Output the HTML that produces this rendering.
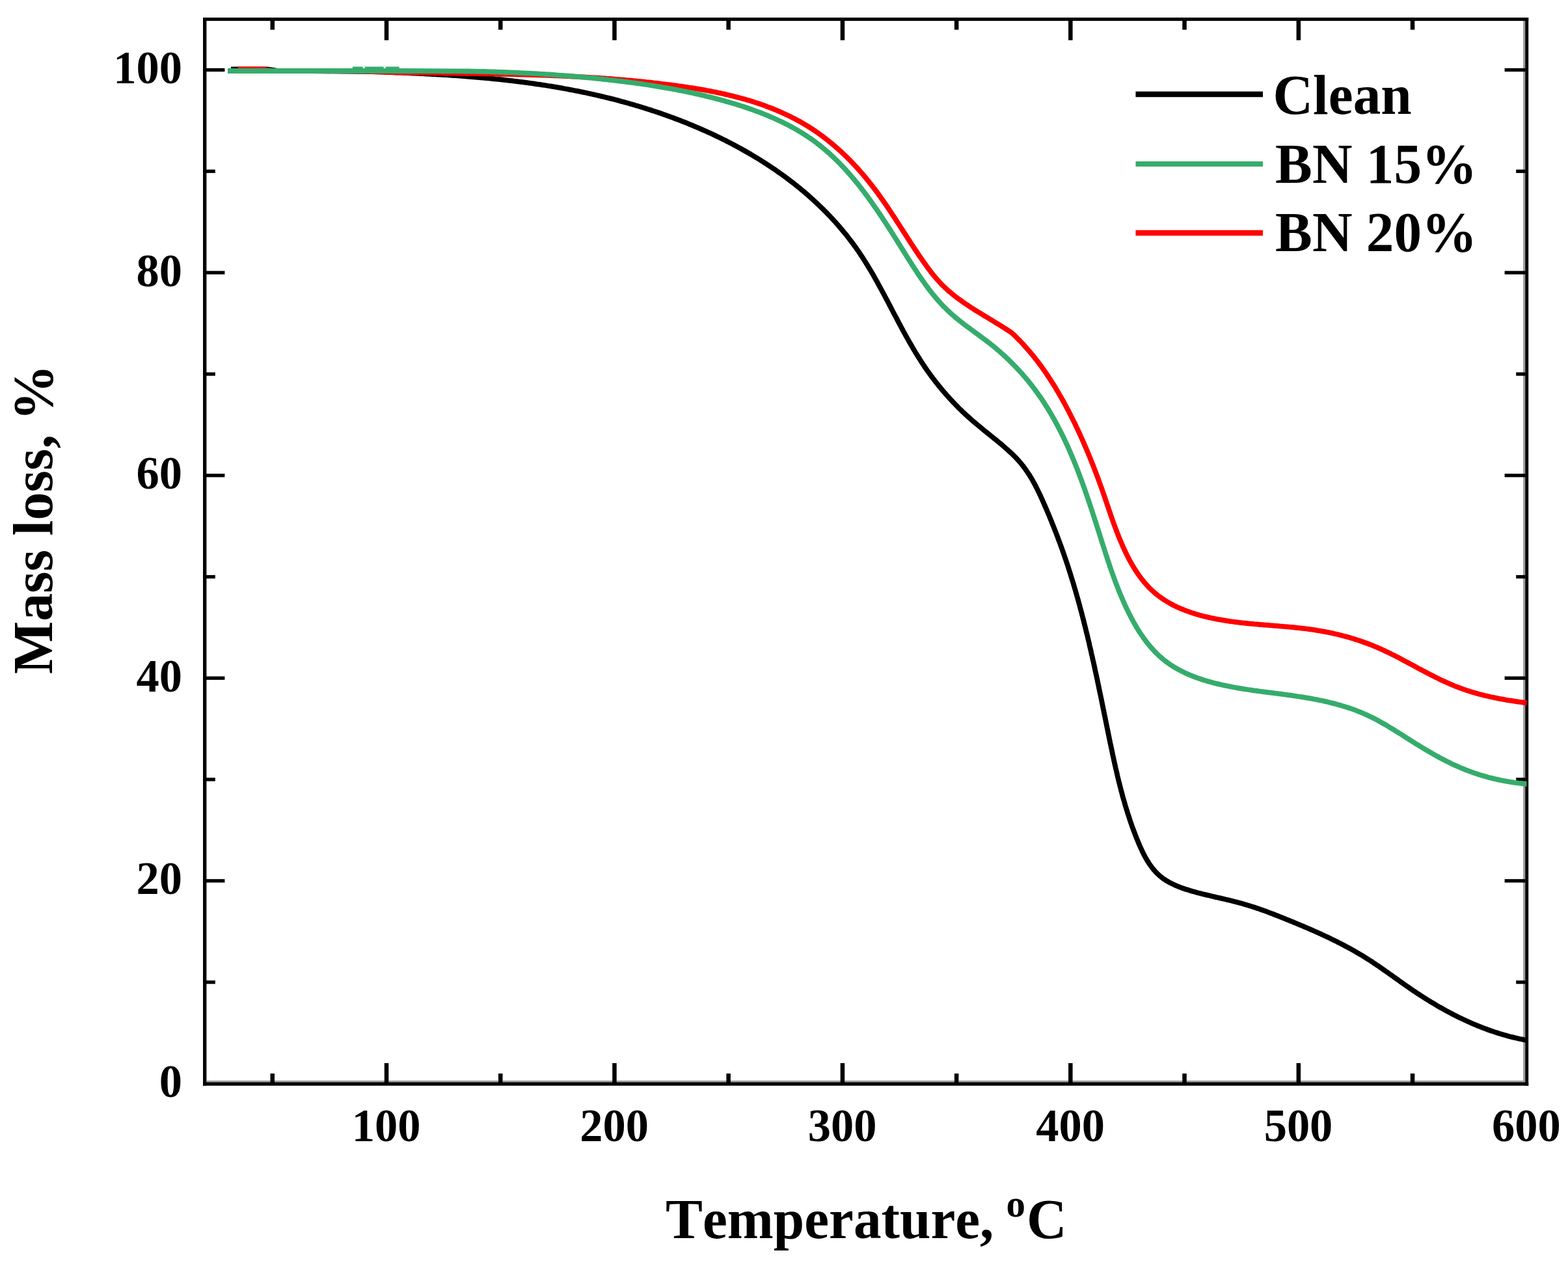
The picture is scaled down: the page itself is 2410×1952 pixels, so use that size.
<!DOCTYPE html>
<html lang="en"><head><meta charset="utf-8"><title>TGA mass loss curves</title>
<style>html,body{margin:0;padding:0;background:#fff}body{width:2410px;height:1952px;overflow:hidden}svg{display:block}text{fill:#000;font-family:"Liberation Serif",serif;font-weight:bold;font-kerning:none;font-variant-ligatures:none}</style>
</head><body>
<svg width="2410" height="1952" viewBox="0 0 2410 1952">
<rect x="0" y="0" width="2410" height="1952" fill="#fff"/>
<g fill="#9c9c9c">
<rect x="317.4" y="1660.8" width="2026.9" height="2.8"/>
<rect x="2341.1" y="32" width="3.4" height="1631.4"/>
</g>
<g fill="#000">
<rect x="312" y="27" width="2037.2" height="5.1"/>
<rect x="312" y="1663.4" width="2037.2" height="5.3"/>
<rect x="312" y="27" width="5.4" height="1641.7"/>
<rect x="2344.3" y="27" width="4.9" height="1641.7"/>
<rect x="415.5" y="32" width="6.5" height="13.7"/>
<rect x="415.5" y="1650.0" width="6.5" height="14.0"/>
<rect x="590.8" y="32" width="6.5" height="29.8"/>
<rect x="590.8" y="1634.0" width="6.5" height="30.0"/>
<rect x="766.0" y="32" width="6.5" height="13.7"/>
<rect x="766.0" y="1650.0" width="6.5" height="14.0"/>
<rect x="941.2" y="32" width="6.5" height="29.8"/>
<rect x="941.2" y="1634.0" width="6.5" height="30.0"/>
<rect x="1116.4" y="32" width="6.5" height="13.7"/>
<rect x="1116.4" y="1650.0" width="6.5" height="14.0"/>
<rect x="1291.7" y="32" width="6.5" height="29.8"/>
<rect x="1291.7" y="1634.0" width="6.5" height="30.0"/>
<rect x="1466.9" y="32" width="6.5" height="13.7"/>
<rect x="1466.9" y="1650.0" width="6.5" height="14.0"/>
<rect x="1642.1" y="32" width="6.5" height="29.8"/>
<rect x="1642.1" y="1634.0" width="6.5" height="30.0"/>
<rect x="1817.3" y="32" width="6.5" height="13.7"/>
<rect x="1817.3" y="1650.0" width="6.5" height="14.0"/>
<rect x="1992.6" y="32" width="6.5" height="29.8"/>
<rect x="1992.6" y="1634.0" width="6.5" height="30.0"/>
<rect x="2167.8" y="32" width="6.5" height="13.7"/>
<rect x="2167.8" y="1650.0" width="6.5" height="14.0"/>
<rect x="317" y="1507.0" width="13.8" height="5.3"/>
<rect x="2330.2" y="1507.0" width="14.4" height="5.3"/>
<rect x="317" y="1351.2" width="28.4" height="5.3"/>
<rect x="2312.6" y="1351.2" width="32.0" height="5.3"/>
<rect x="317" y="1195.4" width="13.8" height="5.3"/>
<rect x="2330.2" y="1195.4" width="14.4" height="5.3"/>
<rect x="317" y="1039.6" width="28.4" height="5.3"/>
<rect x="2312.6" y="1039.6" width="32.0" height="5.3"/>
<rect x="317" y="883.9" width="13.8" height="5.3"/>
<rect x="2330.2" y="883.9" width="14.4" height="5.3"/>
<rect x="317" y="728.1" width="28.4" height="5.3"/>
<rect x="2312.6" y="728.1" width="32.0" height="5.3"/>
<rect x="317" y="572.3" width="13.8" height="5.3"/>
<rect x="2330.2" y="572.3" width="14.4" height="5.3"/>
<rect x="317" y="416.4" width="28.4" height="5.3"/>
<rect x="2312.6" y="416.4" width="32.0" height="5.3"/>
<rect x="317" y="260.6" width="13.8" height="5.3"/>
<rect x="2330.2" y="260.6" width="14.4" height="5.3"/>
<rect x="317" y="104.8" width="28.4" height="5.3"/>
<rect x="2312.6" y="104.8" width="32.0" height="5.3"/>
</g>
<path d="M355.0,106.5 L412.0,106.5 L425.0,108.6 L480.0,109.0 L560.0,109.8 L590.0,110.6 L610.0,111.5 L613.0,111.6 L616.1,111.7 L619.1,111.9 L622.1,112.0 L625.1,112.1 L628.2,112.2 L631.2,112.4 L634.2,112.5 L637.2,112.6 L640.3,112.8 L643.3,112.9 L646.3,113.1 L649.3,113.2 L652.3,113.4 L655.4,113.5 L658.4,113.7 L661.4,113.8 L664.4,114.0 L667.4,114.2 L670.4,114.3 L673.4,114.5 L676.4,114.7 L679.4,114.9 L682.4,115.0 L685.4,115.2 L688.4,115.4 L691.4,115.6 L694.4,115.8 L697.4,116.0 L700.4,116.2 L703.4,116.4 L706.4,116.7 L709.4,116.9 L712.4,117.1 L715.4,117.3 L718.4,117.6 L721.4,117.8 L724.4,118.0 L727.3,118.3 L730.3,118.5 L733.3,118.8 L736.3,119.0 L739.3,119.3 L742.3,119.6 L745.2,119.8 L748.2,120.1 L751.2,120.4 L754.2,120.7 L757.1,121.0 L760.1,121.3 L763.1,121.6 L766.1,121.9 L769.0,122.2 L772.0,122.5 L775.0,122.8 L777.9,123.2 L780.9,123.5 L783.9,123.9 L786.8,124.2 L789.8,124.6 L792.7,124.9 L795.7,125.3 L798.6,125.7 L801.6,126.0 L804.6,126.4 L807.5,126.8 L810.5,127.2 L813.4,127.6 L816.4,128.0 L819.3,128.4 L822.3,128.8 L825.2,129.3 L828.2,129.7 L831.1,130.1 L834.0,130.6 L837.0,131.0 L839.9,131.5 L842.9,132.0 L845.8,132.4 L848.7,132.9 L851.7,133.4 L854.6,133.9 L857.5,134.4 L860.5,134.9 L863.4,135.4 L866.3,136.0 L869.3,136.5 L872.2,137.0 L875.1,137.6 L878.0,138.1 L881.0,138.7 L883.9,139.3 L886.8,139.8 L889.7,140.4 L892.6,141.0 L895.5,141.6 L898.5,142.2 L901.4,142.8 L904.3,143.5 L907.2,144.1 L910.1,144.7 L913.0,145.4 L915.9,146.0 L918.8,146.7 L921.7,147.4 L924.7,148.1 L927.6,148.8 L930.5,149.5 L933.4,150.2 L936.3,150.9 L939.2,151.6 L942.1,152.3 L945.0,153.1 L947.9,153.8 L950.7,154.6 L953.6,155.4 L956.5,156.2 L959.4,156.9 L962.3,157.7 L965.2,158.6 L968.1,159.4 L971.0,160.2 L973.9,161.0 L976.7,161.9 L979.6,162.7 L982.5,163.6 L985.4,164.5 L988.3,165.4 L991.1,166.3 L994.0,167.2 L996.9,168.1 L999.8,169.0 L1002.6,170.0 L1005.5,170.9 L1008.4,171.9 L1011.2,172.8 L1014.1,173.8 L1017.0,174.8 L1019.8,175.8 L1022.7,176.8 L1025.5,177.8 L1028.4,178.8 L1031.2,179.9 L1034.1,180.9 L1036.9,182.0 L1039.7,183.0 L1042.6,184.1 L1045.4,185.2 L1048.2,186.3 L1051.0,187.4 L1053.9,188.5 L1056.7,189.7 L1059.5,190.8 L1062.3,192.0 L1065.1,193.1 L1067.9,194.3 L1070.7,195.5 L1073.5,196.7 L1076.3,197.9 L1079.0,199.1 L1081.8,200.3 L1084.6,201.5 L1087.3,202.8 L1090.1,204.0 L1092.9,205.3 L1095.6,206.6 L1098.4,207.9 L1101.1,209.2 L1103.8,210.5 L1106.5,211.8 L1109.3,213.1 L1112.0,214.5 L1114.7,215.8 L1117.4,217.2 L1120.1,218.6 L1122.8,220.0 L1125.5,221.4 L1128.1,222.8 L1130.8,224.2 L1133.5,225.6 L1136.1,227.1 L1138.8,228.5 L1141.4,230.0 L1144.0,231.5 L1146.7,233.0 L1149.3,234.5 L1151.9,236.0 L1154.5,237.5 L1157.1,239.1 L1159.7,240.6 L1162.2,242.2 L1164.8,243.7 L1167.4,245.3 L1169.9,246.9 L1172.5,248.5 L1175.0,250.1 L1177.5,251.7 L1180.0,253.4 L1182.5,255.0 L1185.0,256.7 L1187.5,258.4 L1190.0,260.0 L1192.5,261.7 L1194.9,263.5 L1197.4,265.2 L1199.8,266.9 L1202.3,268.7 L1204.7,270.4 L1207.1,272.2 L1209.5,274.0 L1211.9,275.7 L1214.3,277.6 L1216.6,279.4 L1219.0,281.2 L1221.3,283.0 L1223.7,284.9 L1226.0,286.8 L1228.3,288.6 L1230.6,290.5 L1232.9,292.4 L1235.2,294.3 L1237.5,296.3 L1239.7,298.2 L1242.0,300.1 L1244.2,302.1 L1246.4,304.1 L1248.6,306.1 L1250.8,308.1 L1253.0,310.1 L1255.2,312.1 L1257.3,314.1 L1259.5,316.2 L1261.6,318.2 L1263.7,320.3 L1265.9,322.4 L1268.0,324.5 L1270.0,326.6 L1272.1,328.7 L1274.2,330.9 L1276.2,333.0 L1278.2,335.2 L1280.2,337.4 L1282.2,339.5 L1284.2,341.7 L1286.2,344.0 L1288.2,346.2 L1290.1,348.4 L1292.0,350.7 L1293.9,352.9 L1295.8,355.2 L1297.7,357.5 L1299.6,359.8 L1301.5,362.1 L1303.3,364.5 L1305.1,366.8 L1306.9,369.2 L1308.7,371.5 L1310.5,373.9 L1312.3,376.3 L1314.0,378.7 L1315.8,381.1 L1317.5,383.6 L1319.2,386.0 L1320.9,388.5 L1322.5,391.0 L1324.2,393.4 L1325.8,395.9 L1327.4,398.5 L1329.0,401.0 L1330.6,403.5 L1332.2,406.1 L1333.8,408.6 L1335.3,411.2 L1336.9,413.8 L1338.4,416.3 L1339.9,418.9 L1341.5,421.5 L1343.0,424.2 L1344.5,426.8 L1345.9,429.4 L1347.4,432.0 L1348.9,434.7 L1350.3,437.3 L1351.8,440.0 L1353.2,442.6 L1354.7,445.3 L1356.1,448.0 L1357.6,450.6 L1359.0,453.3 L1360.4,456.0 L1361.8,458.7 L1363.3,461.3 L1364.7,464.0 L1366.1,466.7 L1367.5,469.4 L1368.9,472.1 L1370.3,474.8 L1371.7,477.5 L1373.1,480.2 L1374.5,482.9 L1376.0,485.6 L1377.4,488.2 L1378.8,490.9 L1380.2,493.6 L1381.6,496.3 L1383.1,499.0 L1384.5,501.7 L1385.9,504.3 L1387.4,507.0 L1388.8,509.7 L1390.3,512.3 L1391.7,515.0 L1393.2,517.6 L1394.7,520.3 L1396.2,522.9 L1397.7,525.6 L1399.2,528.2 L1400.7,530.8 L1402.2,533.4 L1403.7,536.0 L1405.3,538.6 L1406.8,541.2 L1408.4,543.8 L1410.0,546.3 L1411.6,548.9 L1413.2,551.4 L1414.8,554.0 L1416.4,556.5 L1418.1,559.0 L1419.7,561.5 L1421.4,564.0 L1423.1,566.5 L1424.8,568.9 L1426.5,571.4 L1428.3,573.8 L1430.1,576.2 L1431.8,578.7 L1433.6,581.1 L1435.4,583.4 L1437.3,585.8 L1439.1,588.2 L1441.0,590.5 L1442.8,592.8 L1444.7,595.1 L1446.6,597.4 L1448.5,599.7 L1450.4,602.0 L1452.4,604.2 L1454.3,606.5 L1456.3,608.7 L1458.3,610.9 L1460.3,613.1 L1462.3,615.2 L1464.3,617.4 L1466.4,619.5 L1468.4,621.7 L1470.5,623.8 L1472.5,625.9 L1474.6,628.0 L1476.7,630.0 L1478.8,632.1 L1481.0,634.1 L1483.1,636.1 L1485.2,638.1 L1487.4,640.0 L1489.6,642.0 L1491.7,643.9 L1493.9,645.9 L1496.1,647.8 L1498.4,649.7 L1500.6,651.5 L1502.8,653.4 L1505.1,655.3 L1507.3,657.1 L1509.6,659.0 L1511.9,660.9 L1514.1,662.7 L1516.4,664.6 L1518.7,666.4 L1521.1,668.3 L1523.4,670.2 L1525.7,672.0 L1528.0,673.9 L1530.4,675.8 L1532.7,677.8 L1535.1,679.7 L1537.4,681.6 L1539.8,683.6 L1542.1,685.6 L1544.4,687.6 L1546.7,689.6 L1549.0,691.6 L1551.2,693.7 L1553.5,695.7 L1555.7,697.8 L1557.8,700.0 L1560.0,702.1 L1562.1,704.3 L1564.2,706.5 L1566.2,708.8 L1568.2,711.0 L1570.1,713.4 L1572.0,715.7 L1573.8,718.1 L1575.6,720.5 L1577.3,722.9 L1579.0,725.4 L1580.6,727.8 L1582.3,730.3 L1583.8,732.9 L1585.4,735.4 L1586.9,738.0 L1588.3,740.6 L1589.8,743.2 L1591.2,745.9 L1592.5,748.5 L1593.9,751.2 L1595.2,753.9 L1596.5,756.6 L1597.8,759.3 L1599.1,762.0 L1600.3,764.7 L1601.6,767.4 L1602.8,770.2 L1604.0,772.9 L1605.2,775.6 L1606.4,778.4 L1607.6,781.1 L1608.8,783.9 L1609.9,786.6 L1611.1,789.4 L1612.3,792.1 L1613.4,794.9 L1614.5,797.7 L1615.7,800.4 L1616.8,803.2 L1617.9,806.0 L1619.0,808.7 L1620.1,811.5 L1621.2,814.3 L1622.3,817.1 L1623.4,819.9 L1624.4,822.6 L1625.5,825.4 L1626.5,828.2 L1627.6,831.0 L1628.6,833.8 L1629.7,836.6 L1630.7,839.4 L1631.7,842.2 L1632.7,845.0 L1633.7,847.8 L1634.7,850.7 L1635.7,853.5 L1636.6,856.3 L1637.6,859.1 L1638.6,861.9 L1639.5,864.8 L1640.5,867.6 L1641.4,870.5 L1642.3,873.3 L1643.2,876.1 L1644.1,879.0 L1645.0,881.8 L1645.9,884.7 L1646.8,887.6 L1647.7,890.4 L1648.6,893.3 L1649.5,896.2 L1650.3,899.0 L1651.2,901.9 L1652.0,904.8 L1652.9,907.7 L1653.7,910.5 L1654.5,913.4 L1655.3,916.3 L1656.2,919.2 L1657.0,922.1 L1657.8,925.0 L1658.6,927.9 L1659.4,930.8 L1660.1,933.7 L1660.9,936.6 L1661.7,939.5 L1662.5,942.4 L1663.2,945.3 L1664.0,948.2 L1664.7,951.1 L1665.5,954.0 L1666.2,957.0 L1666.9,959.9 L1667.7,962.8 L1668.4,965.7 L1669.1,968.6 L1669.8,971.6 L1670.6,974.5 L1671.3,977.4 L1672.0,980.4 L1672.7,983.3 L1673.4,986.2 L1674.1,989.2 L1674.7,992.1 L1675.4,995.0 L1676.1,998.0 L1676.8,1000.9 L1677.4,1003.8 L1678.1,1006.8 L1678.8,1009.7 L1679.4,1012.7 L1680.1,1015.6 L1680.8,1018.6 L1681.4,1021.5 L1682.1,1024.5 L1682.7,1027.4 L1683.3,1030.4 L1684.0,1033.3 L1684.6,1036.2 L1685.3,1039.2 L1685.9,1042.1 L1686.5,1045.1 L1687.1,1048.0 L1687.8,1051.0 L1688.4,1053.9 L1689.0,1056.9 L1689.6,1059.9 L1690.2,1062.8 L1690.9,1065.8 L1691.5,1068.7 L1692.1,1071.7 L1692.7,1074.6 L1693.3,1077.6 L1693.9,1080.5 L1694.5,1083.5 L1695.1,1086.4 L1695.7,1089.4 L1696.3,1092.3 L1696.9,1095.3 L1697.5,1098.2 L1698.1,1101.1 L1698.7,1104.1 L1699.3,1107.0 L1699.9,1110.0 L1700.5,1112.9 L1701.1,1115.9 L1701.7,1118.8 L1702.3,1121.8 L1702.9,1124.7 L1703.5,1127.6 L1704.1,1130.6 L1704.7,1133.5 L1705.3,1136.5 L1705.9,1139.4 L1706.5,1142.3 L1707.2,1145.3 L1707.8,1148.2 L1708.4,1151.1 L1709.0,1154.0 L1709.6,1157.0 L1710.2,1159.9 L1710.9,1162.8 L1711.5,1165.7 L1712.1,1168.7 L1712.8,1171.6 L1713.4,1174.5 L1714.1,1177.4 L1714.7,1180.3 L1715.4,1183.2 L1716.1,1186.1 L1716.8,1189.0 L1717.4,1191.9 L1718.1,1194.8 L1718.8,1197.7 L1719.5,1200.6 L1720.3,1203.5 L1721.0,1206.4 L1721.7,1209.3 L1722.5,1212.2 L1723.2,1215.1 L1724.0,1218.0 L1724.8,1220.9 L1725.5,1223.7 L1726.3,1226.6 L1727.2,1229.5 L1728.0,1232.3 L1728.8,1235.2 L1729.6,1238.1 L1730.5,1240.9 L1731.4,1243.8 L1732.3,1246.6 L1733.1,1249.5 L1734.1,1252.3 L1735.0,1255.2 L1735.9,1258.0 L1736.9,1260.9 L1737.8,1263.7 L1738.8,1266.5 L1739.8,1269.4 L1740.8,1272.2 L1741.8,1275.0 L1742.9,1277.8 L1744.0,1280.6 L1745.0,1283.4 L1746.1,1286.2 L1747.2,1289.0 L1748.4,1291.8 L1749.5,1294.6 L1750.7,1297.4 L1751.9,1300.2 L1753.1,1302.9 L1754.4,1305.7 L1755.6,1308.4 L1757.0,1311.1 L1758.3,1313.8 L1759.7,1316.4 L1761.1,1319.0 L1762.6,1321.5 L1764.2,1324.1 L1765.7,1326.5 L1767.4,1329.0 L1769.1,1331.3 L1770.8,1333.7 L1772.6,1335.9 L1774.5,1338.1 L1776.4,1340.2 L1778.4,1342.3 L1780.5,1344.3 L1782.6,1346.2 L1784.9,1348.1 L1787.2,1349.8 L1789.5,1351.5 L1792.0,1353.1 L1794.5,1354.6 L1797.1,1356.1 L1799.7,1357.5 L1802.4,1358.8 L1805.1,1360.1 L1807.9,1361.3 L1810.7,1362.5 L1813.5,1363.6 L1816.4,1364.7 L1819.3,1365.7 L1822.2,1366.7 L1825.2,1367.6 L1828.1,1368.5 L1831.1,1369.4 L1834.1,1370.3 L1837.0,1371.1 L1840.0,1371.9 L1843.0,1372.7 L1846.0,1373.4 L1848.9,1374.2 L1851.9,1374.9 L1854.8,1375.6 L1857.8,1376.3 L1860.7,1377.0 L1863.7,1377.7 L1866.6,1378.4 L1869.5,1379.1 L1872.4,1379.7 L1875.3,1380.4 L1878.3,1381.1 L1881.2,1381.8 L1884.1,1382.5 L1887.0,1383.1 L1889.9,1383.8 L1892.8,1384.5 L1895.6,1385.3 L1898.5,1386.0 L1901.4,1386.7 L1904.3,1387.5 L1907.1,1388.3 L1910.0,1389.1 L1912.9,1389.9 L1915.7,1390.7 L1918.6,1391.6 L1921.4,1392.5 L1924.3,1393.4 L1927.1,1394.3 L1930.0,1395.3 L1932.8,1396.2 L1935.6,1397.2 L1938.5,1398.2 L1941.3,1399.2 L1944.1,1400.2 L1946.9,1401.2 L1949.8,1402.3 L1952.6,1403.4 L1955.4,1404.4 L1958.2,1405.5 L1961.0,1406.6 L1963.8,1407.7 L1966.6,1408.8 L1969.4,1409.9 L1972.2,1411.0 L1975.0,1412.2 L1977.8,1413.3 L1980.6,1414.4 L1983.4,1415.6 L1986.2,1416.7 L1989.0,1417.9 L1991.7,1419.0 L1994.5,1420.2 L1997.3,1421.3 L2000.1,1422.5 L2002.9,1423.7 L2005.6,1424.8 L2008.4,1426.0 L2011.1,1427.2 L2013.9,1428.4 L2016.7,1429.6 L2019.4,1430.8 L2022.1,1432.0 L2024.9,1433.3 L2027.6,1434.5 L2030.4,1435.7 L2033.1,1437.0 L2035.8,1438.3 L2038.5,1439.5 L2041.2,1440.8 L2043.9,1442.1 L2046.6,1443.4 L2049.3,1444.7 L2052.0,1446.0 L2054.7,1447.3 L2057.3,1448.7 L2060.0,1450.0 L2062.6,1451.4 L2065.3,1452.8 L2067.9,1454.2 L2070.6,1455.6 L2073.2,1457.0 L2075.8,1458.4 L2078.4,1459.9 L2081.0,1461.3 L2083.6,1462.8 L2086.2,1464.3 L2088.7,1465.8 L2091.3,1467.3 L2093.9,1468.9 L2096.4,1470.4 L2098.9,1472.0 L2101.4,1473.6 L2104.0,1475.2 L2106.5,1476.8 L2109.0,1478.4 L2111.4,1480.1 L2113.9,1481.7 L2116.4,1483.4 L2118.9,1485.1 L2121.3,1486.8 L2123.8,1488.5 L2126.2,1490.2 L2128.7,1491.9 L2131.1,1493.6 L2133.5,1495.3 L2136.0,1497.1 L2138.4,1498.8 L2140.9,1500.5 L2143.3,1502.3 L2145.7,1504.0 L2148.2,1505.7 L2150.6,1507.5 L2153.0,1509.2 L2155.5,1510.9 L2157.9,1512.7 L2160.4,1514.4 L2162.8,1516.1 L2165.3,1517.8 L2167.7,1519.5 L2170.2,1521.2 L2172.7,1522.9 L2175.2,1524.6 L2177.7,1526.2 L2180.2,1527.9 L2182.7,1529.5 L2185.2,1531.1 L2187.7,1532.8 L2190.3,1534.4 L2192.8,1536.0 L2195.3,1537.5 L2197.9,1539.1 L2200.4,1540.7 L2203.0,1542.2 L2205.6,1543.7 L2208.2,1545.3 L2210.8,1546.8 L2213.4,1548.3 L2216.0,1549.7 L2218.6,1551.2 L2221.2,1552.6 L2223.8,1554.1 L2226.4,1555.5 L2229.1,1556.9 L2231.7,1558.3 L2234.4,1559.7 L2237.1,1561.0 L2239.7,1562.4 L2242.4,1563.7 L2245.1,1565.0 L2247.8,1566.3 L2250.5,1567.5 L2253.2,1568.8 L2255.9,1570.0 L2258.7,1571.3 L2261.4,1572.5 L2264.1,1573.7 L2266.9,1574.8 L2269.6,1576.0 L2272.4,1577.1 L2275.2,1578.2 L2278.0,1579.3 L2280.8,1580.4 L2283.6,1581.4 L2286.4,1582.5 L2289.2,1583.5 L2292.0,1584.5 L2294.8,1585.4 L2297.7,1586.4 L2300.5,1587.3 L2303.4,1588.2 L2306.2,1589.1 L2309.1,1589.9 L2312.0,1590.8 L2314.9,1591.6 L2317.8,1592.4 L2320.7,1593.2 L2323.6,1593.9 L2326.5,1594.6 L2329.4,1595.3 L2332.4,1596.0 L2335.3,1596.7 L2338.3,1597.3 L2341.2,1597.9 L2344.2,1598.5 L2346.4,1598.9" fill="none" stroke="#000" stroke-width="7.8" stroke-linejoin="round" stroke-linecap="butt"/>
<path d="M366.0,106.5 L404.0,106.5 L416.0,108.6 L480.0,109.0 L560.0,109.6 L590.0,110.6 L610.0,111.3 L613.0,111.4 L616.1,111.4 L619.1,111.5 L622.2,111.5 L625.2,111.6 L628.2,111.6 L631.3,111.7 L634.3,111.7 L637.3,111.8 L640.4,111.9 L643.4,111.9 L646.4,111.9 L649.5,112.0 L652.5,112.0 L655.5,112.1 L658.5,112.1 L661.5,112.2 L664.6,112.2 L667.6,112.3 L670.6,112.3 L673.6,112.4 L676.6,112.4 L679.6,112.4 L682.6,112.5 L685.6,112.5 L688.7,112.6 L691.7,112.6 L694.7,112.6 L697.7,112.7 L700.7,112.7 L703.7,112.8 L706.7,112.8 L709.7,112.9 L712.7,112.9 L715.7,112.9 L718.7,113.0 L721.7,113.0 L724.7,113.1 L727.7,113.1 L730.7,113.2 L733.6,113.2 L736.6,113.3 L739.6,113.3 L742.6,113.4 L745.6,113.4 L748.6,113.5 L751.6,113.5 L754.6,113.6 L757.6,113.6 L760.5,113.7 L763.5,113.7 L766.5,113.8 L769.5,113.9 L772.5,113.9 L775.5,114.0 L778.4,114.0 L781.4,114.1 L784.4,114.2 L787.4,114.2 L790.4,114.3 L793.3,114.4 L796.3,114.5 L799.3,114.5 L802.3,114.6 L805.3,114.7 L808.2,114.8 L811.2,114.9 L814.2,114.9 L817.2,115.0 L820.1,115.1 L823.1,115.2 L826.1,115.3 L829.1,115.4 L832.0,115.5 L835.0,115.6 L838.0,115.7 L841.0,115.8 L843.9,115.9 L846.9,116.0 L849.9,116.2 L852.9,116.3 L855.8,116.4 L858.8,116.5 L861.8,116.7 L864.7,116.8 L867.7,116.9 L870.7,117.1 L873.7,117.2 L876.6,117.3 L879.6,117.5 L882.6,117.6 L885.6,117.8 L888.5,117.9 L891.5,118.1 L894.5,118.3 L897.5,118.4 L900.4,118.6 L903.4,118.8 L906.4,119.0 L909.4,119.1 L912.3,119.3 L915.3,119.5 L918.3,119.7 L921.3,119.9 L924.2,120.1 L927.2,120.3 L930.2,120.5 L933.2,120.8 L936.2,121.0 L939.1,121.2 L942.1,121.4 L945.1,121.7 L948.1,121.9 L951.1,122.1 L954.0,122.4 L957.0,122.6 L960.0,122.9 L963.0,123.2 L966.0,123.4 L969.0,123.7 L971.9,124.0 L974.9,124.3 L977.9,124.5 L980.9,124.8 L983.9,125.1 L986.9,125.4 L989.9,125.7 L992.9,126.1 L995.9,126.4 L998.9,126.7 L1001.9,127.0 L1004.9,127.4 L1007.9,127.7 L1010.8,128.0 L1013.8,128.4 L1016.8,128.8 L1019.8,129.1 L1022.8,129.5 L1025.9,129.9 L1028.9,130.2 L1031.9,130.6 L1034.9,131.0 L1037.9,131.4 L1040.9,131.8 L1043.9,132.3 L1046.9,132.7 L1049.9,133.1 L1052.9,133.5 L1055.9,134.0 L1058.9,134.5 L1061.9,134.9 L1064.9,135.4 L1067.9,135.9 L1070.9,136.4 L1073.9,136.9 L1076.9,137.4 L1079.9,137.9 L1082.9,138.4 L1085.9,139.0 L1088.9,139.5 L1091.8,140.1 L1094.8,140.7 L1097.8,141.3 L1100.8,141.9 L1103.7,142.5 L1106.7,143.1 L1109.7,143.8 L1112.6,144.4 L1115.6,145.1 L1118.5,145.8 L1121.5,146.5 L1124.4,147.2 L1127.3,147.9 L1130.3,148.7 L1133.2,149.4 L1136.1,150.2 L1139.0,151.0 L1141.9,151.8 L1144.8,152.6 L1147.7,153.4 L1150.6,154.3 L1153.4,155.1 L1156.3,156.0 L1159.2,156.9 L1162.0,157.9 L1164.8,158.8 L1167.7,159.7 L1170.5,160.7 L1173.3,161.7 L1176.1,162.7 L1178.9,163.8 L1181.7,164.8 L1184.5,165.9 L1187.3,167.0 L1190.1,168.1 L1192.8,169.2 L1195.5,170.4 L1198.3,171.5 L1201.0,172.7 L1203.7,174.0 L1206.4,175.2 L1209.1,176.5 L1211.8,177.7 L1214.5,179.0 L1217.1,180.4 L1219.8,181.7 L1222.4,183.1 L1225.0,184.5 L1227.6,185.9 L1230.2,187.3 L1232.8,188.8 L1235.4,190.3 L1237.9,191.8 L1240.5,193.4 L1243.0,194.9 L1245.5,196.5 L1248.0,198.1 L1250.5,199.8 L1253.0,201.4 L1255.4,203.1 L1257.9,204.8 L1260.3,206.6 L1262.7,208.3 L1265.1,210.1 L1267.5,211.9 L1269.9,213.8 L1272.2,215.6 L1274.6,217.5 L1276.9,219.4 L1279.2,221.3 L1281.5,223.2 L1283.8,225.2 L1286.0,227.1 L1288.2,229.1 L1290.5,231.1 L1292.7,233.1 L1294.8,235.2 L1297.0,237.2 L1299.2,239.3 L1301.3,241.3 L1303.4,243.4 L1305.5,245.5 L1307.6,247.6 L1309.6,249.8 L1311.7,251.9 L1313.7,254.1 L1315.7,256.2 L1317.7,258.4 L1319.7,260.6 L1321.6,262.8 L1323.6,265.0 L1325.5,267.3 L1327.4,269.5 L1329.3,271.8 L1331.2,274.1 L1333.1,276.4 L1335.0,278.7 L1336.8,281.0 L1338.7,283.3 L1340.5,285.7 L1342.3,288.1 L1344.2,290.4 L1346.0,292.8 L1347.8,295.2 L1349.5,297.6 L1351.3,300.1 L1353.1,302.5 L1354.8,305.0 L1356.6,307.5 L1358.3,310.0 L1360.1,312.5 L1361.8,315.0 L1363.5,317.5 L1365.2,320.0 L1366.9,322.6 L1368.6,325.1 L1370.3,327.7 L1372.0,330.3 L1373.7,332.8 L1375.4,335.4 L1377.0,338.0 L1378.7,340.6 L1380.4,343.1 L1382.1,345.7 L1383.7,348.3 L1385.4,350.9 L1387.1,353.5 L1388.7,356.1 L1390.4,358.7 L1392.0,361.2 L1393.7,363.8 L1395.3,366.4 L1397.0,369.0 L1398.7,371.5 L1400.3,374.1 L1402.0,376.6 L1403.7,379.2 L1405.3,381.7 L1407.0,384.2 L1408.7,386.7 L1410.3,389.2 L1412.0,391.7 L1413.7,394.2 L1415.4,396.6 L1417.1,399.1 L1418.8,401.5 L1420.5,403.9 L1422.2,406.3 L1423.9,408.7 L1425.6,411.1 L1427.4,413.4 L1429.1,415.7 L1430.9,418.0 L1432.7,420.3 L1434.5,422.6 L1436.3,424.8 L1438.2,427.0 L1440.1,429.2 L1442.0,431.4 L1443.9,433.5 L1445.9,435.6 L1447.9,437.7 L1450.0,439.8 L1452.1,441.8 L1454.3,443.8 L1456.4,445.8 L1458.6,447.7 L1460.9,449.6 L1463.2,451.5 L1465.5,453.4 L1467.8,455.2 L1470.2,457.1 L1472.6,458.9 L1475.1,460.6 L1477.5,462.4 L1480.0,464.2 L1482.5,465.9 L1485.0,467.6 L1487.5,469.3 L1490.1,471.0 L1492.6,472.7 L1495.2,474.3 L1497.8,476.0 L1500.4,477.6 L1503.0,479.2 L1505.6,480.8 L1508.2,482.4 L1510.8,484.0 L1513.4,485.6 L1516.1,487.2 L1518.7,488.8 L1521.3,490.4 L1523.9,491.9 L1526.5,493.5 L1529.1,495.1 L1531.6,496.7 L1534.2,498.2 L1536.8,499.8 L1539.3,501.4 L1541.8,503.0 L1544.3,504.5 L1546.8,506.1 L1549.3,507.7 L1551.7,509.3 L1554.1,510.9 L1555.0,511.5 L1557.2,513.6 L1559.5,515.7 L1561.7,517.9 L1563.8,520.1 L1566.0,522.2 L1568.1,524.4 L1570.2,526.6 L1572.3,528.8 L1574.3,531.1 L1576.3,533.3 L1578.3,535.6 L1580.3,537.8 L1582.3,540.1 L1584.2,542.4 L1586.1,544.7 L1588.0,547.0 L1589.9,549.3 L1591.7,551.7 L1593.6,554.0 L1595.4,556.4 L1597.2,558.8 L1598.9,561.1 L1600.7,563.5 L1602.4,566.0 L1604.2,568.4 L1605.9,570.8 L1607.5,573.2 L1609.2,575.7 L1610.9,578.2 L1612.5,580.6 L1614.1,583.1 L1615.7,585.6 L1617.3,588.1 L1618.9,590.6 L1620.5,593.1 L1622.0,595.6 L1623.5,598.2 L1625.0,600.7 L1626.6,603.3 L1628.0,605.9 L1629.5,608.4 L1631.0,611.0 L1632.5,613.6 L1633.9,616.2 L1635.3,618.8 L1636.8,621.4 L1638.2,624.0 L1639.6,626.7 L1641.0,629.3 L1642.4,631.9 L1643.7,634.6 L1645.1,637.3 L1646.4,639.9 L1647.8,642.6 L1649.1,645.3 L1650.5,648.0 L1651.8,650.6 L1653.1,653.3 L1654.4,656.1 L1655.7,658.8 L1656.9,661.5 L1658.2,664.2 L1659.5,666.9 L1660.7,669.7 L1661.9,672.4 L1663.2,675.1 L1664.4,677.9 L1665.6,680.6 L1666.8,683.4 L1668.0,686.2 L1669.2,688.9 L1670.4,691.7 L1671.5,694.5 L1672.7,697.2 L1673.8,700.0 L1675.0,702.8 L1676.1,705.6 L1677.2,708.4 L1678.4,711.2 L1679.5,714.0 L1680.6,716.8 L1681.7,719.6 L1682.7,722.4 L1683.8,725.2 L1684.9,728.0 L1685.9,730.8 L1687.0,733.7 L1688.0,736.5 L1689.1,739.3 L1690.1,742.1 L1691.1,744.9 L1692.1,747.8 L1693.2,750.6 L1694.2,753.4 L1695.1,756.3 L1696.1,759.1 L1697.1,761.9 L1698.1,764.8 L1699.0,767.6 L1700.0,770.4 L1701.0,773.3 L1701.9,776.1 L1702.9,778.9 L1703.9,781.8 L1704.8,784.6 L1705.8,787.4 L1706.8,790.2 L1707.7,793.1 L1708.7,795.9 L1709.7,798.7 L1710.7,801.6 L1711.7,804.4 L1712.8,807.2 L1713.8,810.0 L1714.9,812.9 L1715.9,815.7 L1717.0,818.5 L1718.1,821.3 L1719.2,824.1 L1720.3,826.9 L1721.5,829.7 L1722.7,832.5 L1723.9,835.3 L1725.1,838.1 L1726.3,840.9 L1727.6,843.7 L1728.9,846.5 L1730.2,849.2 L1731.5,852.0 L1732.9,854.7 L1734.3,857.4 L1735.7,860.1 L1737.2,862.8 L1738.6,865.4 L1740.1,868.0 L1741.7,870.6 L1743.2,873.2 L1744.8,875.8 L1746.5,878.3 L1748.1,880.8 L1749.8,883.2 L1751.6,885.7 L1753.3,888.1 L1755.1,890.4 L1757.0,892.7 L1758.8,895.0 L1760.8,897.2 L1762.7,899.4 L1764.7,901.6 L1766.7,903.7 L1768.8,905.7 L1770.9,907.7 L1773.1,909.7 L1775.2,911.6 L1777.5,913.4 L1779.8,915.2 L1782.1,917.0 L1784.4,918.7 L1786.8,920.3 L1789.2,922.0 L1791.7,923.5 L1794.2,925.0 L1796.7,926.5 L1799.2,927.9 L1801.8,929.3 L1804.4,930.7 L1807.1,931.9 L1809.7,933.2 L1812.4,934.4 L1815.1,935.6 L1817.9,936.7 L1820.7,937.9 L1823.4,938.9 L1826.3,939.9 L1829.1,940.9 L1831.9,941.9 L1834.8,942.8 L1837.7,943.7 L1840.6,944.6 L1843.5,945.4 L1846.4,946.2 L1849.4,947.0 L1852.4,947.7 L1855.3,948.4 L1858.3,949.1 L1861.3,949.8 L1864.3,950.4 L1867.3,951.0 L1870.3,951.6 L1873.3,952.2 L1876.4,952.7 L1879.4,953.2 L1882.4,953.7 L1885.4,954.2 L1888.5,954.6 L1891.5,955.1 L1894.5,955.5 L1897.5,955.9 L1900.6,956.3 L1903.6,956.7 L1906.6,957.0 L1909.6,957.4 L1912.7,957.7 L1915.7,958.0 L1918.7,958.3 L1921.7,958.6 L1924.7,958.9 L1927.7,959.2 L1930.7,959.4 L1933.7,959.7 L1936.7,960.0 L1939.7,960.2 L1942.7,960.5 L1945.7,960.7 L1948.7,960.9 L1951.7,961.2 L1954.7,961.4 L1957.7,961.7 L1960.7,961.9 L1963.7,962.1 L1966.7,962.4 L1969.6,962.6 L1972.6,962.9 L1975.6,963.1 L1978.6,963.4 L1981.5,963.7 L1984.5,963.9 L1987.5,964.2 L1990.4,964.5 L1993.4,964.8 L1996.3,965.1 L1999.3,965.5 L2002.2,965.8 L2005.2,966.1 L2008.1,966.5 L2011.0,966.9 L2014.0,967.3 L2016.9,967.7 L2019.8,968.1 L2022.7,968.6 L2025.7,969.1 L2028.6,969.5 L2031.5,970.1 L2034.4,970.6 L2037.3,971.1 L2040.2,971.7 L2043.1,972.3 L2046.0,972.9 L2048.9,973.5 L2051.8,974.2 L2054.6,974.8 L2057.5,975.5 L2060.4,976.2 L2063.3,977.0 L2066.1,977.7 L2069.0,978.5 L2071.8,979.3 L2074.7,980.1 L2077.5,980.9 L2080.4,981.8 L2083.2,982.7 L2086.0,983.6 L2088.9,984.5 L2091.7,985.5 L2094.5,986.5 L2097.3,987.5 L2100.1,988.5 L2102.9,989.5 L2105.7,990.6 L2108.5,991.7 L2111.3,992.8 L2114.1,994.0 L2116.8,995.1 L2119.6,996.3 L2122.4,997.6 L2125.1,998.8 L2127.9,1000.1 L2130.6,1001.4 L2133.4,1002.7 L2136.1,1004.0 L2138.8,1005.4 L2141.5,1006.7 L2144.3,1008.1 L2147.0,1009.5 L2149.7,1010.9 L2152.4,1012.3 L2155.1,1013.8 L2157.7,1015.2 L2160.4,1016.6 L2163.1,1018.0 L2165.8,1019.5 L2168.4,1020.9 L2171.1,1022.4 L2173.7,1023.8 L2176.4,1025.2 L2179.0,1026.6 L2181.7,1028.1 L2184.3,1029.5 L2187.0,1030.9 L2189.6,1032.3 L2192.3,1033.7 L2194.9,1035.1 L2197.6,1036.4 L2200.2,1037.8 L2202.8,1039.1 L2205.5,1040.5 L2208.1,1041.8 L2210.8,1043.1 L2213.5,1044.4 L2216.1,1045.7 L2218.8,1046.9 L2221.5,1048.1 L2224.2,1049.3 L2226.9,1050.5 L2229.6,1051.7 L2232.3,1052.8 L2235.0,1054.0 L2237.7,1055.1 L2240.5,1056.1 L2243.2,1057.2 L2246.0,1058.2 L2248.7,1059.2 L2251.5,1060.1 L2254.3,1061.1 L2257.1,1062.0 L2259.9,1062.9 L2262.7,1063.7 L2265.6,1064.6 L2268.4,1065.4 L2271.2,1066.2 L2274.1,1067.0 L2277.0,1067.7 L2279.8,1068.4 L2282.7,1069.2 L2285.6,1069.8 L2288.5,1070.5 L2291.4,1071.2 L2294.4,1071.8 L2297.3,1072.4 L2300.2,1073.0 L2303.2,1073.6 L2306.1,1074.2 L2309.1,1074.7 L2312.1,1075.2 L2315.1,1075.8 L2318.1,1076.3 L2321.1,1076.7 L2324.1,1077.2 L2327.1,1077.7 L2330.1,1078.1 L2333.2,1078.6 L2336.2,1079.0 L2339.3,1079.4 L2342.3,1079.8 L2345.4,1080.2 L2346.4,1080.3" fill="none" stroke="#ff0000" stroke-width="7.8" stroke-linejoin="round" stroke-linecap="butt"/>
<path d="M350.0,109.0 L541.0,109.0 L617.0,109.0 L660.0,109.1 L700.0,109.3 L703.0,109.3 L706.0,109.4 L709.0,109.4 L712.0,109.4 L715.1,109.5 L718.1,109.5 L721.1,109.5 L724.1,109.6 L727.1,109.7 L730.1,109.7 L733.1,109.8 L736.1,109.8 L739.1,109.9 L742.1,110.0 L745.1,110.0 L748.2,110.1 L751.2,110.2 L754.2,110.3 L757.2,110.4 L760.2,110.5 L763.2,110.6 L766.2,110.7 L769.2,110.8 L772.2,110.9 L775.2,111.0 L778.2,111.1 L781.2,111.2 L784.2,111.3 L787.2,111.4 L790.2,111.6 L793.2,111.7 L796.2,111.8 L799.2,112.0 L802.2,112.1 L805.2,112.3 L808.2,112.4 L811.2,112.6 L814.2,112.7 L817.2,112.9 L820.2,113.1 L823.1,113.2 L826.1,113.4 L829.1,113.6 L832.1,113.8 L835.1,113.9 L838.1,114.1 L841.1,114.3 L844.1,114.5 L847.1,114.7 L850.1,114.9 L853.0,115.1 L856.0,115.4 L859.0,115.6 L862.0,115.8 L865.0,116.0 L868.0,116.3 L871.0,116.5 L873.9,116.7 L876.9,117.0 L879.9,117.2 L882.9,117.5 L885.9,117.7 L888.9,118.0 L891.8,118.3 L894.8,118.5 L897.8,118.8 L900.8,119.1 L903.7,119.4 L906.7,119.6 L909.7,119.9 L912.7,120.2 L915.6,120.5 L918.6,120.8 L921.6,121.1 L924.6,121.5 L927.5,121.8 L930.5,122.1 L933.5,122.4 L936.4,122.8 L939.4,123.1 L942.4,123.4 L945.4,123.8 L948.3,124.1 L951.3,124.5 L954.3,124.8 L957.2,125.2 L960.2,125.6 L963.1,126.0 L966.1,126.3 L969.1,126.7 L972.0,127.1 L975.0,127.5 L978.0,127.9 L980.9,128.3 L983.9,128.7 L986.8,129.2 L989.8,129.6 L992.7,130.0 L995.7,130.5 L998.6,130.9 L1001.6,131.4 L1004.6,131.8 L1007.5,132.3 L1010.5,132.8 L1013.4,133.3 L1016.4,133.8 L1019.3,134.3 L1022.3,134.8 L1025.2,135.3 L1028.2,135.8 L1031.1,136.3 L1034.0,136.9 L1037.0,137.4 L1039.9,138.0 L1042.9,138.6 L1045.8,139.1 L1048.8,139.7 L1051.7,140.3 L1054.6,140.9 L1057.6,141.5 L1060.5,142.1 L1063.5,142.8 L1066.4,143.4 L1069.3,144.1 L1072.3,144.7 L1075.2,145.4 L1078.1,146.1 L1081.1,146.7 L1084.0,147.4 L1086.9,148.2 L1089.8,148.9 L1092.8,149.6 L1095.7,150.3 L1098.6,151.1 L1101.6,151.9 L1104.5,152.6 L1107.4,153.4 L1110.3,154.2 L1113.2,155.0 L1116.2,155.9 L1119.1,156.7 L1122.0,157.5 L1124.9,158.4 L1127.8,159.3 L1130.7,160.1 L1133.6,161.0 L1136.5,162.0 L1139.4,162.9 L1142.3,163.8 L1145.2,164.8 L1148.1,165.7 L1151.0,166.7 L1153.9,167.7 L1156.7,168.7 L1159.6,169.8 L1162.4,170.8 L1165.3,171.9 L1168.1,172.9 L1170.9,174.0 L1173.7,175.2 L1176.6,176.3 L1179.4,177.4 L1182.1,178.6 L1184.9,179.8 L1187.7,181.0 L1190.4,182.2 L1193.2,183.4 L1195.9,184.7 L1198.7,186.0 L1201.4,187.3 L1204.1,188.6 L1206.7,189.9 L1209.4,191.3 L1212.1,192.6 L1214.7,194.0 L1217.3,195.5 L1220.0,196.9 L1222.6,198.4 L1225.1,199.8 L1227.7,201.4 L1230.3,202.9 L1232.8,204.4 L1235.3,206.0 L1237.8,207.6 L1240.3,209.2 L1242.8,210.9 L1245.2,212.5 L1247.6,214.2 L1250.0,215.9 L1252.4,217.7 L1254.8,219.5 L1257.1,221.2 L1259.5,223.1 L1261.8,224.9 L1264.1,226.8 L1266.4,228.7 L1268.6,230.6 L1270.8,232.5 L1273.1,234.4 L1275.3,236.4 L1277.4,238.4 L1279.6,240.4 L1281.8,242.5 L1283.9,244.5 L1286.0,246.6 L1288.1,248.7 L1290.2,250.8 L1292.3,252.9 L1294.3,255.1 L1296.4,257.2 L1298.4,259.4 L1300.4,261.6 L1302.4,263.8 L1304.4,266.1 L1306.3,268.3 L1308.3,270.6 L1310.2,272.9 L1312.2,275.1 L1314.1,277.4 L1316.0,279.8 L1317.9,282.1 L1319.8,284.4 L1321.6,286.8 L1323.5,289.2 L1325.3,291.6 L1327.2,294.0 L1329.0,296.4 L1330.8,298.8 L1332.6,301.2 L1334.4,303.6 L1336.2,306.1 L1337.9,308.5 L1339.7,311.0 L1341.4,313.5 L1343.2,316.0 L1344.9,318.5 L1346.7,321.0 L1348.4,323.5 L1350.1,326.0 L1351.8,328.5 L1353.5,331.0 L1355.2,333.5 L1356.9,336.1 L1358.5,338.6 L1360.2,341.1 L1361.9,343.7 L1363.5,346.2 L1365.2,348.8 L1366.8,351.3 L1368.5,353.9 L1370.1,356.4 L1371.7,359.0 L1373.4,361.6 L1375.0,364.1 L1376.6,366.7 L1378.2,369.3 L1379.8,371.8 L1381.4,374.4 L1383.0,376.9 L1384.6,379.5 L1386.2,382.1 L1387.8,384.6 L1389.4,387.2 L1391.0,389.7 L1392.6,392.3 L1394.2,394.8 L1395.8,397.3 L1397.4,399.9 L1399.0,402.4 L1400.6,404.9 L1402.2,407.4 L1403.8,409.9 L1405.4,412.4 L1407.1,414.9 L1408.7,417.4 L1410.3,419.9 L1412.0,422.3 L1413.6,424.8 L1415.3,427.2 L1417.0,429.7 L1418.7,432.1 L1420.4,434.5 L1422.1,436.9 L1423.8,439.2 L1425.6,441.6 L1427.3,443.9 L1429.1,446.3 L1430.9,448.6 L1432.7,450.9 L1434.5,453.2 L1436.4,455.4 L1438.3,457.7 L1440.2,459.9 L1442.1,462.1 L1444.0,464.3 L1446.0,466.4 L1448.0,468.6 L1450.0,470.7 L1452.1,472.8 L1454.2,474.8 L1456.3,476.9 L1458.4,478.9 L1460.6,480.9 L1462.8,482.9 L1465.0,484.8 L1467.3,486.8 L1469.5,488.7 L1471.8,490.6 L1474.2,492.4 L1476.5,494.3 L1478.9,496.1 L1481.2,498.0 L1483.6,499.8 L1486.0,501.6 L1488.5,503.4 L1490.9,505.2 L1493.3,507.0 L1495.8,508.8 L1498.2,510.6 L1500.7,512.4 L1503.1,514.2 L1505.6,516.0 L1508.0,517.8 L1510.4,519.6 L1512.9,521.4 L1515.3,523.2 L1517.7,525.1 L1520.1,526.9 L1522.5,528.8 L1524.9,530.7 L1527.2,532.6 L1529.6,534.5 L1531.9,536.5 L1534.2,538.4 L1536.5,540.4 L1538.7,542.4 L1541.0,544.4 L1543.2,546.4 L1545.4,548.5 L1547.6,550.5 L1549.8,552.6 L1552.0,554.7 L1554.1,556.8 L1556.2,558.9 L1558.3,561.1 L1560.4,563.2 L1562.5,565.4 L1564.5,567.6 L1566.6,569.8 L1568.6,572.0 L1570.6,574.2 L1572.6,576.5 L1574.5,578.7 L1576.5,581.0 L1578.4,583.3 L1580.3,585.6 L1582.2,587.9 L1584.0,590.2 L1585.9,592.6 L1587.7,594.9 L1589.5,597.3 L1591.3,599.7 L1593.0,602.1 L1594.8,604.5 L1596.5,606.9 L1598.2,609.3 L1599.9,611.8 L1601.6,614.2 L1603.2,616.7 L1604.8,619.2 L1606.5,621.7 L1608.0,624.2 L1609.6,626.7 L1611.2,629.2 L1612.7,631.8 L1614.2,634.3 L1615.8,636.9 L1617.2,639.4 L1618.7,642.0 L1620.2,644.6 L1621.6,647.2 L1623.0,649.8 L1624.5,652.4 L1625.8,655.0 L1627.2,657.7 L1628.6,660.3 L1629.9,663.0 L1631.3,665.6 L1632.6,668.3 L1633.9,671.0 L1635.2,673.7 L1636.5,676.3 L1637.8,679.1 L1639.0,681.8 L1640.3,684.5 L1641.5,687.2 L1642.7,689.9 L1643.9,692.7 L1645.1,695.4 L1646.3,698.2 L1647.5,700.9 L1648.6,703.7 L1649.8,706.5 L1650.9,709.2 L1652.0,712.0 L1653.2,714.8 L1654.3,717.6 L1655.4,720.4 L1656.5,723.2 L1657.5,726.0 L1658.6,728.8 L1659.7,731.6 L1660.7,734.4 L1661.8,737.3 L1662.8,740.1 L1663.8,742.9 L1664.9,745.8 L1665.9,748.6 L1666.9,751.4 L1667.9,754.3 L1668.9,757.1 L1669.9,760.0 L1670.9,762.9 L1671.9,765.7 L1672.8,768.6 L1673.8,771.4 L1674.8,774.3 L1675.7,777.2 L1676.7,780.0 L1677.6,782.9 L1678.6,785.8 L1679.5,788.6 L1680.4,791.5 L1681.4,794.4 L1682.3,797.3 L1683.2,800.1 L1684.2,803.0 L1685.1,805.9 L1686.0,808.8 L1686.9,811.6 L1687.8,814.5 L1688.8,817.4 L1689.7,820.3 L1690.6,823.1 L1691.5,826.0 L1692.4,828.9 L1693.3,831.8 L1694.2,834.6 L1695.1,837.5 L1696.1,840.3 L1697.0,843.2 L1697.9,846.1 L1698.8,848.9 L1699.7,851.8 L1700.7,854.6 L1701.6,857.5 L1702.5,860.3 L1703.5,863.2 L1704.4,866.0 L1705.4,868.9 L1706.3,871.7 L1707.3,874.5 L1708.3,877.4 L1709.3,880.2 L1710.3,883.0 L1711.3,885.8 L1712.3,888.6 L1713.3,891.4 L1714.4,894.3 L1715.4,897.1 L1716.5,899.8 L1717.6,902.6 L1718.7,905.4 L1719.8,908.2 L1720.9,911.0 L1722.1,913.8 L1723.2,916.5 L1724.4,919.3 L1725.6,922.0 L1726.8,924.8 L1728.0,927.5 L1729.3,930.3 L1730.5,933.0 L1731.8,935.7 L1733.1,938.4 L1734.4,941.1 L1735.8,943.8 L1737.2,946.5 L1738.6,949.2 L1740.0,951.9 L1741.4,954.5 L1742.9,957.2 L1744.4,959.8 L1745.9,962.4 L1747.4,965.0 L1749.0,967.5 L1750.6,970.1 L1752.2,972.6 L1753.9,975.1 L1755.6,977.5 L1757.3,980.0 L1759.0,982.4 L1760.8,984.8 L1762.6,987.2 L1764.4,989.5 L1766.3,991.8 L1768.2,994.0 L1770.1,996.3 L1772.1,998.4 L1774.1,1000.6 L1776.1,1002.7 L1778.2,1004.8 L1780.3,1006.8 L1782.5,1008.8 L1784.7,1010.7 L1786.9,1012.6 L1789.1,1014.5 L1791.4,1016.3 L1793.8,1018.0 L1796.2,1019.8 L1798.6,1021.4 L1801.0,1023.0 L1803.5,1024.6 L1806.0,1026.1 L1808.6,1027.6 L1811.2,1029.0 L1813.8,1030.4 L1816.4,1031.8 L1819.1,1033.1 L1821.8,1034.4 L1824.5,1035.6 L1827.3,1036.8 L1830.0,1038.0 L1832.8,1039.1 L1835.6,1040.2 L1838.5,1041.3 L1841.3,1042.3 L1844.2,1043.3 L1847.1,1044.3 L1850.0,1045.2 L1852.9,1046.1 L1855.8,1046.9 L1858.8,1047.8 L1861.7,1048.6 L1864.7,1049.4 L1867.6,1050.2 L1870.6,1050.9 L1873.6,1051.6 L1876.6,1052.3 L1879.5,1053.0 L1882.5,1053.6 L1885.5,1054.2 L1888.5,1054.8 L1891.5,1055.4 L1894.5,1056.0 L1897.5,1056.5 L1900.4,1057.1 L1903.4,1057.6 L1906.4,1058.1 L1909.4,1058.6 L1912.4,1059.1 L1915.3,1059.5 L1918.3,1060.0 L1921.3,1060.4 L1924.3,1060.8 L1927.2,1061.3 L1930.2,1061.7 L1933.2,1062.1 L1936.1,1062.5 L1939.1,1062.9 L1942.1,1063.3 L1945.0,1063.7 L1948.0,1064.0 L1951.0,1064.4 L1953.9,1064.8 L1956.9,1065.2 L1959.9,1065.6 L1962.8,1065.9 L1965.8,1066.3 L1968.8,1066.7 L1971.7,1067.1 L1974.7,1067.5 L1977.7,1067.9 L1980.7,1068.3 L1983.6,1068.7 L1986.6,1069.1 L1989.6,1069.6 L1992.6,1070.0 L1995.5,1070.5 L1998.5,1070.9 L2001.5,1071.4 L2004.5,1071.9 L2007.4,1072.4 L2010.4,1072.9 L2013.4,1073.4 L2016.3,1073.9 L2019.3,1074.5 L2022.2,1075.0 L2025.2,1075.6 L2028.1,1076.2 L2031.1,1076.8 L2034.0,1077.4 L2036.9,1078.1 L2039.9,1078.8 L2042.8,1079.5 L2045.7,1080.2 L2048.6,1080.9 L2051.5,1081.6 L2054.4,1082.4 L2057.3,1083.2 L2060.1,1084.0 L2063.0,1084.9 L2065.9,1085.7 L2068.7,1086.6 L2071.5,1087.5 L2074.4,1088.5 L2077.2,1089.4 L2080.0,1090.4 L2082.8,1091.4 L2085.5,1092.5 L2088.3,1093.6 L2091.0,1094.7 L2093.8,1095.8 L2096.5,1097.0 L2099.2,1098.2 L2101.9,1099.4 L2104.6,1100.7 L2107.3,1102.0 L2109.9,1103.3 L2112.5,1104.6 L2115.2,1106.0 L2117.8,1107.4 L2120.4,1108.8 L2123.0,1110.3 L2125.6,1111.8 L2128.2,1113.2 L2130.7,1114.7 L2133.3,1116.3 L2135.9,1117.8 L2138.4,1119.3 L2141.0,1120.9 L2143.5,1122.5 L2146.0,1124.1 L2148.6,1125.6 L2151.1,1127.2 L2153.7,1128.8 L2156.2,1130.4 L2158.7,1132.0 L2161.3,1133.7 L2163.8,1135.3 L2166.3,1136.9 L2168.9,1138.5 L2171.4,1140.1 L2174.0,1141.7 L2176.5,1143.3 L2179.1,1144.8 L2181.6,1146.4 L2184.2,1148.0 L2186.7,1149.5 L2189.3,1151.1 L2191.9,1152.6 L2194.5,1154.2 L2197.1,1155.7 L2199.7,1157.2 L2202.3,1158.7 L2204.9,1160.1 L2207.5,1161.6 L2210.1,1163.0 L2212.7,1164.5 L2215.3,1165.9 L2218.0,1167.3 L2220.6,1168.6 L2223.2,1170.0 L2225.9,1171.3 L2228.6,1172.6 L2231.2,1173.9 L2233.9,1175.2 L2236.6,1176.4 L2239.3,1177.6 L2242.0,1178.8 L2244.7,1180.0 L2247.4,1181.1 L2250.1,1182.2 L2252.9,1183.3 L2255.6,1184.4 L2258.4,1185.4 L2261.1,1186.4 L2263.9,1187.4 L2266.7,1188.4 L2269.5,1189.3 L2272.3,1190.2 L2275.1,1191.1 L2277.9,1192.0 L2280.7,1192.8 L2283.6,1193.6 L2286.4,1194.4 L2289.3,1195.2 L2292.2,1195.9 L2295.1,1196.6 L2298.0,1197.3 L2300.9,1197.9 L2303.8,1198.6 L2306.7,1199.2 L2309.7,1199.8 L2312.6,1200.3 L2315.6,1200.9 L2318.6,1201.4 L2321.6,1201.9 L2324.6,1202.3 L2327.6,1202.8 L2330.6,1203.2 L2333.7,1203.6 L2336.8,1203.9 L2339.8,1204.3 L2342.9,1204.6 L2346.0,1204.9 L2346.4,1204.9" fill="none" stroke="#35ac6c" stroke-width="7.8" stroke-linejoin="round" stroke-linecap="butt"/>
<rect x="541.9" y="102.5" width="15.7" height="3.5" fill="#35ac6c"/>
<rect x="560.6" y="102.5" width="29.1" height="3.5" fill="#35ac6c"/>
<rect x="592.7" y="102.5" width="20.9" height="3.5" fill="#35ac6c"/>
<rect x="1745.5" y="140.60" width="195.5" height="8.6" fill="#000"/>
<rect x="1745.5" y="248.00" width="195.5" height="8.0" fill="#35ac6c"/>
<rect x="1745.5" y="353.70" width="195.5" height="8.6" fill="#ff0000"/>
<text transform="translate(593.70,1754.20) scale(1.0,1.03)" font-size="70.5" text-anchor="middle">100</text>
<text transform="translate(944.15,1754.20) scale(1.0,1.03)" font-size="70.5" text-anchor="middle">200</text>
<text transform="translate(1294.60,1754.20) scale(1.0,1.03)" font-size="70.5" text-anchor="middle">300</text>
<text transform="translate(1645.05,1754.20) scale(1.0,1.03)" font-size="70.5" text-anchor="middle">400</text>
<text transform="translate(1995.50,1754.20) scale(1.0,1.03)" font-size="70.5" text-anchor="middle">500</text>
<text transform="translate(2345.95,1754.20) scale(1.0,1.03)" font-size="70.5" text-anchor="middle">600</text>
<text transform="translate(280.00,1686.00) scale(1.0,1.03)" font-size="70.5" text-anchor="end">0</text>
<text transform="translate(280.00,1374.40) scale(1.0,1.03)" font-size="70.5" text-anchor="end">20</text>
<text transform="translate(280.00,1062.80) scale(1.0,1.03)" font-size="70.5" text-anchor="end">40</text>
<text transform="translate(280.00,751.20) scale(1.0,1.03)" font-size="70.5" text-anchor="end">60</text>
<text transform="translate(280.00,439.60) scale(1.0,1.03)" font-size="70.5" text-anchor="end">80</text>
<text transform="translate(280.00,128.00) scale(1.0,1.03)" font-size="70.5" text-anchor="end">100</text>
<text transform="translate(1956.50,175.30) scale(1.0,1.025)" font-size="85.3">Clean</text>
<text transform="translate(1960.00,280.60) scale(1.0,1.025)" font-size="85.3">BN 15%</text>
<text transform="translate(1960.00,386.30) scale(1.0,1.025)" font-size="85.3">BN 20%</text>
<text transform="translate(1023.00,1903.30) scale(1.0,1.02)" font-size="85.3">Temperature, <tspan x="523.5" y="-33.0" font-size="59">o</tspan><tspan x="555.0" y="0">C</tspan></text>
<text transform="translate(80.30,1036.00) rotate(-90)" font-size="86">Mass loss, %</text>
</svg>
</body></html>
